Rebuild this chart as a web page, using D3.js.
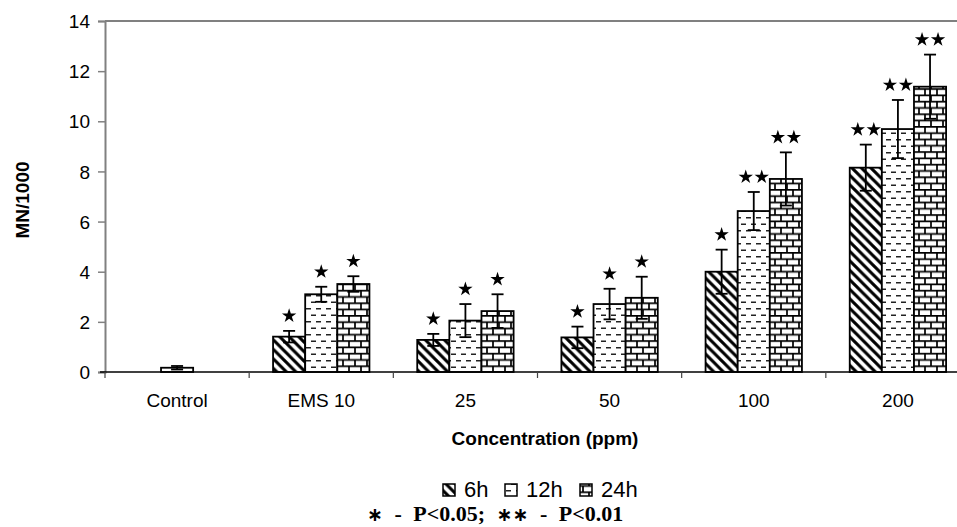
<!DOCTYPE html>
<html>
<head>
<meta charset="utf-8">
<script src="https://cdn.jsdelivr.net/npm/d3@7"></script>
<style>
  html, body { margin: 0; padding: 0; background: #fff; }
  svg { display: block; }
  text { font-family: "Liberation Sans", Arial, sans-serif; fill: #000; }
</style>
</head>
<body>
<svg id="chart" width="957" height="527"></svg>
<script>
// ---- data ----
const categories = ["Control", "EMS 10", "25", "50", "100", "200"];
const seriesNames = ["6h", "12h", "24h"];
const values6h  = [null, 1.41, 1.28, 1.38, 4.00, 8.15];
const values12h = [0.17, 3.10, 2.05, 2.71, 6.42, 9.69];
const values24h = [null, 3.51, 2.43, 2.96, 7.70, 11.38];
const errors6h  = [null, 0.23, 0.24, 0.43, 0.88, 0.92];
const errors12h = [0.07, 0.30, 0.66, 0.61, 0.76, 1.16];
const errors24h = [null, 0.31, 0.67, 0.84, 1.06, 1.28];
const stars6h   = [0, 1, 1, 1, 1, 2];
const stars12h  = [0, 1, 1, 1, 2, 2];
const stars24h  = [0, 1, 1, 1, 2, 2];
const yTicks = [0, 2, 4, 6, 8, 10, 12, 14];
const yLabel = "MN/1000";
const xLabel = "Concentration (ppm)";
const noteParts = ["\u2217", " - P<0.05; ", "\u2217\u2217", " - P<0.01"];

const valueSets = [values6h, values12h, values24h];
const errorSets = [errors6h, errors12h, errors24h];
const starSets = [stars6h, stars12h, stars24h];

const rows = [];
categories.forEach((c, i) => {
  seriesNames.forEach((s, j) => {
    const v = valueSets[j][i];
    if (v != null) rows.push({cat: c, series: s, si: j, value: v, err: errorSets[j][i], stars: starSets[j][i]});
  });
});

// ---- layout ----
const svg = d3.select("#chart");
const mLeft = 105, mRight = 970, mTop = 21, mBottom = 372;

const x = d3.scaleBand().domain(categories).range([mLeft, mRight]).padding(0);
const xs = d3.scaleBand().domain(seriesNames).range([0, x.bandwidth()]).paddingInner(0).paddingOuter(0.744);
const y = d3.scaleLinear().domain([0, 14]).range([mBottom, mTop]);

// ---- patterns ----
const defs = svg.append("defs");
const p1 = defs.append("pattern").attr("id", "pat6h").attr("patternUnits", "userSpaceOnUse")
  .attr("width", 9.5).attr("height", 9.5);
p1.append("rect").attr("width", 9.5).attr("height", 9.5).attr("fill", "#fff");
p1.append("path").attr("d", "M-2,-2L11.5,11.5M-2,7.5L2,11.5M7.5,-2L11.5,2")
  .attr("stroke", "#000").attr("stroke-width", 3.1);

const p2 = defs.append("pattern").attr("id", "pat12h").attr("patternUnits", "userSpaceOnUse")
  .attr("width", 10).attr("height", 13);
p2.append("rect").attr("width", 10).attr("height", 13).attr("fill", "#fff");
p2.append("path").attr("d", "M1,3.2H6M6,9.7H11M-4,9.7H1")
  .attr("stroke", "#222").attr("stroke-width", 1.6);

const p3 = defs.append("pattern").attr("id", "pat24h").attr("patternUnits", "userSpaceOnUse")
  .attr("width", 12).attr("height", 12.6);
p3.append("rect").attr("width", 12).attr("height", 12.6).attr("fill", "#fff");
p3.append("path").attr("d", "M0,0.9H12M0,7.2H12M1,0.9V7.2M7,7.2V13.5")
  .attr("stroke", "#000").attr("stroke-width", 1.7);

const patId = {"6h": "url(#pat6h)", "12h": "url(#pat12h)", "24h": "url(#pat24h)"};

// ---- axes frame ----
svg.append("line").attr("x1", mLeft).attr("x2", 957).attr("y1", mTop).attr("y2", mTop)
  .attr("stroke", "#808080").attr("stroke-width", 2);

const yAxis = svg.append("g").attr("transform", `translate(${mLeft},0)`)
  .call(d3.axisLeft(y).tickValues(yTicks).tickSize(7).tickPadding(8).tickFormat(d3.format("d")));
yAxis.select(".domain").attr("stroke", "#808080").attr("stroke-width", 2);
yAxis.selectAll(".tick line").attr("stroke", "#808080").attr("stroke-width", 1.5);
yAxis.selectAll(".tick text").attr("font-size", 19).attr("font-family", "Liberation Sans, Arial, sans-serif").attr("fill", "#000").attr("dy", "0.35em");

// bars
svg.append("g").selectAll("rect").data(rows).join("rect")
  .attr("x", d => x(d.cat) + xs(d.series))
  .attr("y", d => y(d.value))
  .attr("width", xs.bandwidth())
  .attr("height", d => y(0) - y(d.value))
  .attr("fill", d => patId[d.series])
  .attr("stroke", "#000").attr("stroke-width", 1.8);

// x axis
const xAxisG = svg.append("g").attr("transform", `translate(0,${mBottom})`);
xAxisG.append("line").attr("x1", mLeft - 5).attr("x2", 957).attr("y1", 0).attr("y2", 0)
  .attr("stroke", "#000").attr("stroke-width", 1.6);
xAxisG.selectAll("line.tk").data(categories.concat(["_end"])).join("line").attr("class", "tk")
  .attr("x1", (d, i) => i < categories.length ? x(d) : mRight)
  .attr("x2", (d, i) => i < categories.length ? x(d) : mRight)
  .attr("y1", 0).attr("y2", 6).attr("stroke", "#444").attr("stroke-width", 1.2);
xAxisG.selectAll("text").data(categories).join("text")
  .attr("x", d => x(d) + x.bandwidth() / 2)
  .attr("y", 34.5)
  .attr("text-anchor", "middle").attr("font-size", 19)
  .text(d => d);

// error bars
const eb = svg.append("g").attr("stroke", "#000").attr("stroke-width", 1.8).attr("fill", "none");
rows.forEach(d => {
  const cx = x(d.cat) + xs(d.series) + xs.bandwidth() / 2;
  const y1 = y(d.value + d.err), y2 = y(Math.max(0, d.value - d.err));
  eb.append("line").attr("x1", cx).attr("x2", cx).attr("y1", y1).attr("y2", y2);
  eb.append("line").attr("x1", cx - 6).attr("x2", cx + 6).attr("y1", y1).attr("y2", y1);
  eb.append("line").attr("x1", cx - 6).attr("x2", cx + 6).attr("y1", y2).attr("y2", y2);
});

// significance stars
const starPath = d3.symbol().type(d3.symbolStar).size(64)();
const sg = svg.append("g");
rows.filter(d => d.stars > 0).forEach(d => {
  const cx = x(d.cat) + xs(d.series) + xs.bandwidth() / 2;
  const cy = y(d.value + d.err) - 15;
  const offs = d.stars === 1 ? [0] : [-8, 8];
  offs.forEach(o => {
    sg.append("path").attr("d", starPath).attr("transform", `translate(${cx + o},${cy})`).attr("fill", "#000");
  });
});

// y label
svg.append("text")
  .attr("transform", `translate(29,200) rotate(-90)`)
  .attr("text-anchor", "middle").attr("font-size", 19).attr("font-weight", "bold")
  .text(yLabel);

// x label
svg.append("text").attr("x", 545).attr("y", 445)
  .attr("text-anchor", "middle").attr("font-size", 19).attr("font-weight", "bold")
  .text(xLabel);

// legend
const legX = [443, 505, 580];
const leg = svg.append("g");
seriesNames.forEach((s, i) => {
  leg.append("rect").attr("x", legX[i]).attr("y", 484).attr("width", 12).attr("height", 12)
    .attr("fill", patId[s]).attr("stroke", "#000").attr("stroke-width", 1.5);
  leg.append("text").attr("x", legX[i] + 21).attr("y", 497)
    .attr("font-size", 22).text(s);
});

// note
const note = svg.append("text").attr("x", 367).attr("y", 521)
  .style("font-family", "'Liberation Serif', 'Times New Roman', serif")
  .style("word-spacing", "6px")
  .attr("font-size", 22).attr("font-weight", "bold");
noteParts.forEach((t, i) => {
  note.append("tspan").attr("font-size", i % 2 === 0 ? 19 : 22)
    .attr("font-family", i % 2 === 0 ? "DejaVu Sans" : null)
    .text(t);
});
</script>
</body>
</html>
